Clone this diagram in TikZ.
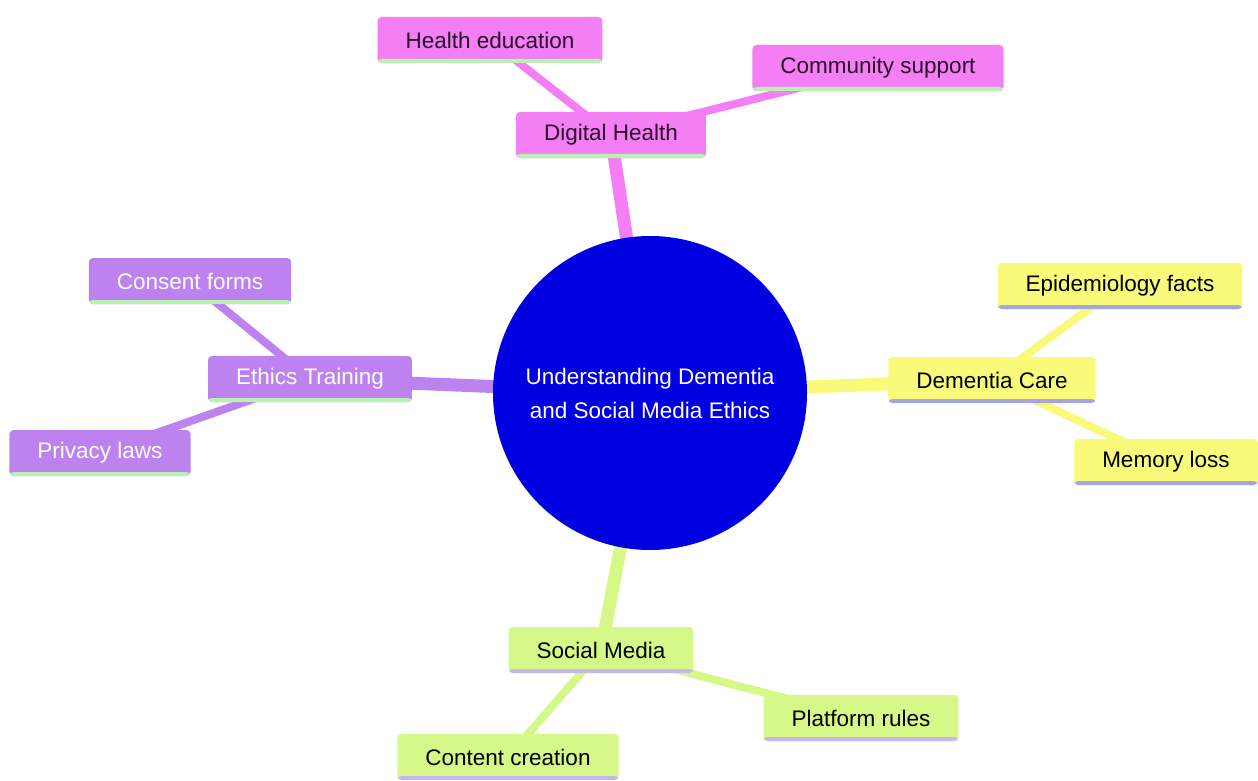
\documentclass[tikz,border=0pt]{standalone}
\usepackage{fontspec}
\setmainfont{Liberation Sans}
\usetikzlibrary{positioning,backgrounds}
\definecolor{rootblue}{HTML}{0000E0}
\definecolor{pinkbox}{HTML}{F47EF4}
\definecolor{purplebox}{HTML}{BE82F0}
\definecolor{yellowbox}{HTML}{FAFA7A}
\definecolor{greenbox}{HTML}{D5F888}
\definecolor{pinktext}{HTML}{2A0A2A}
\definecolor{greenline}{HTML}{B8F2B0}
\definecolor{lilacline}{HTML}{A4A4E4}
\definecolor{paleline}{HTML}{C6B8EE}

\begin{document}
\begin{tikzpicture}[x=1pt,y=-1pt,
	box/.style={rounded corners=4pt, minimum height=46pt, inner xsep=28pt, font=\fontsize{22.5}{27}\selectfont},
	uline/.style={path picture={\fill[#1] ([yshift=4pt]path picture bounding box.south west) rectangle (path picture bounding box.south east);}},
	pinkn/.style={box, fill=pinkbox, text=pinktext, uline=greenline},
	purplen/.style={box, fill=purplebox, text=white, uline=greenline},
	yellown/.style={box, fill=yellowbox, text=black, uline=lilacline},
	greenn/.style={box, fill=greenbox, text=black, uline=paleline},
	rootedge/.style={line width=13pt},
	leafedge/.style={line width=8pt}]
		\useasboundingbox (0,0) rectangle (1258,781);
		% root
		\node [circle, fill=rootblue, minimum size=314pt, text=white, align=center, font=\fontsize{22.5}{34}\selectfont] (root) at (650,393) {Understanding Dementia\\and Social Media Ethics};
		% Digital Health
		\node [pinkn] (dig) at (611,135) {Digital Health};
		\node [pinkn] (hed) at (490,40) {Health education};
		\node [pinkn] (com) at (878,68) {Community support};
		% Dementia Care
		\node [yellown] (dem) at (992,380) {Dementia Care};
		\node [yellown] (epi) at (1120,286) {Epidemiology facts};
		\node [yellown] (mem) at (1166,462) {Memory loss};
		% Ethics Training
		\node [purplen] (eth) at (310,379) {Ethics Training};
		\node [purplen] (con) at (190,281) {Consent forms};
		\node [purplen] (pri) at (100,453) {Privacy laws};
		% Social Media
		\node [greenn] (soc) at (601,650) {Social Media};
		\node [greenn] (pla) at (861,718) {Platform rules};
		\node [greenn] (cnt) at (508,757) {Content creation};
		\begin{scope}[on background layer]
		\draw [rootedge, pinkbox] (root.center) -- (dig.center);
		\draw [leafedge, pinkbox] (dig.center) -- (hed.center);
		\draw [leafedge, pinkbox] (dig.center) -- (com.center);
		\draw [rootedge, yellowbox] (root.center) -- (dem.center);
		\draw [leafedge, yellowbox] (dem.center) -- (epi.center);
		\draw [leafedge, yellowbox] (dem.center) -- (mem.center);
		\draw [rootedge, purplebox] (root.center) -- (eth.center);
		\draw [leafedge, purplebox] (eth.center) -- (con.center);
		\draw [leafedge, purplebox] (eth.center) -- (pri.center);
		\draw [rootedge, greenbox] (root.center) -- (soc.center);
		\draw [leafedge, greenbox] (soc.center) -- (pla.center);
		\draw [leafedge, greenbox] (soc.center) -- (cnt.center);
		\end{scope}
\end{tikzpicture}
\end{document}
